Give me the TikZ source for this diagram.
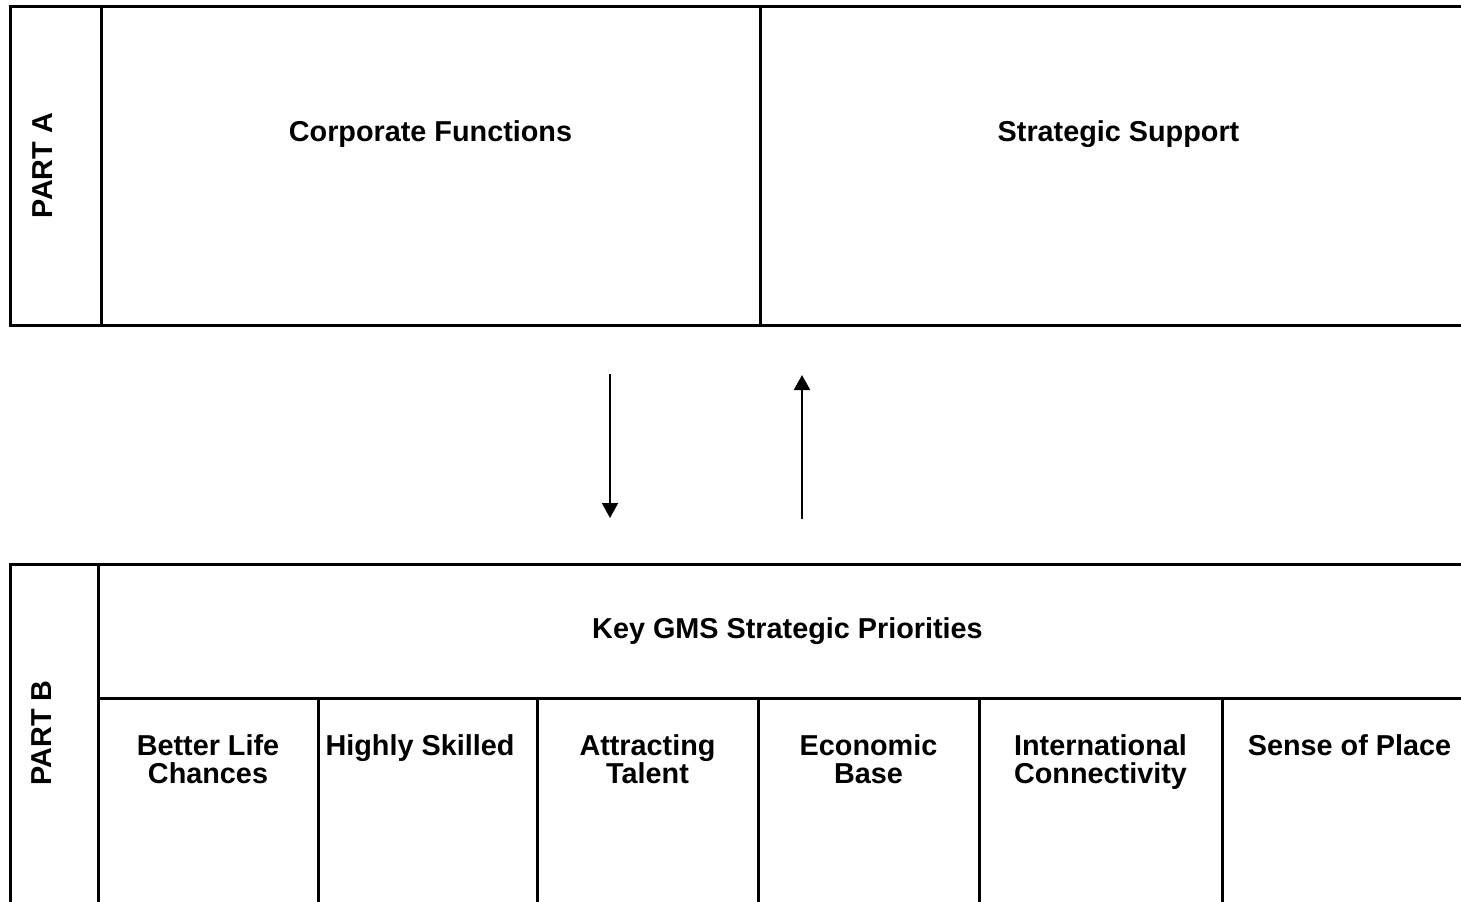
\documentclass[tikz,border=0pt]{standalone}
\usepackage{fontspec}
\setmainfont{Liberation Sans}
\usetikzlibrary{shapes,arrows.meta,positioning}
\tikzstyle{cell} = [draw, rectangle, line width=1.5pt, inner sep=0pt]
\tikzstyle{lbl} = [inner sep=0pt, align=center,
    font=\fontsize{14.4}{14}\selectfont\bfseries]
\tikzstyle{flow} = [line width=1pt, -{Triangle[length=7.5pt,width=8pt]}]

\begin{document}
\begin{tikzpicture}[node distance = 110pt, auto]
  \useasboundingbox (0,0) rectangle (730.5pt,-450.5pt);
  % upper block
  \node [cell, minimum width=45.5pt, minimum height=159.5pt] (partA) at (27.75pt,-82.75pt) {};
  \node [cell, right of=partA, node distance=187.5pt, minimum width=329.5pt, minimum height=159.5pt] (corp) {};
  \node [cell, right of=corp, node distance=344pt, minimum width=358.5pt, minimum height=159.5pt] (support) {};
  \node [lbl, rotate=90] (partAtxt) at ([xshift=-6.5pt]partA.center) {PART A};
  \node [lbl, below=58pt of corp.north] (corptxt) {Corporate Functions};
  \node [lbl, below=58pt of support.north] (supporttxt) {Strategic Support};
  % lower block
  \node [cell, minimum width=44pt, minimum height=171pt] (partB) at (27pt,-367.5pt) {};
  \node [cell, lbl, minimum width=689.5pt, minimum height=67pt] (keyGMS) at (393.75pt,-315.5pt) {Key GMS Strategic Priorities};
  \node [lbl, rotate=90] (partBtxt) at ([xshift=-6pt,yshift=1pt]partB.center) {PART B};
  \node [cell, minimum width=110pt, minimum height=104pt] (life) at (104pt,-401pt) {};
  \node [cell, right of=life, node distance=109.75pt, minimum width=109.5pt, minimum height=104pt] (skills) {};
  \node [cell, right of=skills, node distance=110pt, minimum width=110.5pt, minimum height=104pt] (talent) {};
  \node [cell, right of=talent, node distance=110.5pt, minimum width=110.5pt, minimum height=104pt] (economy) {};
  \node [cell, right of=economy, node distance=116pt, minimum width=121.5pt, minimum height=104pt] (connect) {};
  \node [cell, right of=connect, node distance=124.5pt, minimum width=127.5pt, minimum height=104pt] (place) {};
  \node [lbl, below=19pt of life.north] (lifetxt) {Better Life\\Chances};
  \node [lbl, below=19pt of skills.north, xshift=-3.75pt] (skillstxt) {Highly Skilled};
  \node [lbl, below=19pt of talent.north] (talenttxt) {Attracting\\Talent};
  \node [lbl, below=19pt of economy.north] (economytxt) {Economic\\Base};
  \node [lbl, below=19pt of connect.north] (connecttxt) {International\\Connectivity};
  \node [lbl, below=19pt of place.north] (placetxt) {Sense of Place};
  % links between the blocks
  \coordinate (downTop) at (305pt,-187pt);
  \coordinate (downEnd) at (305pt,-259pt);
  \coordinate (upBottom) at (401pt,-259.5pt);
  \coordinate (upEnd) at (401pt,-187.5pt);
  \draw [flow] (downTop) -- (downEnd);
  \draw [flow] (upBottom) -- (upEnd);
\end{tikzpicture}
\end{document}
